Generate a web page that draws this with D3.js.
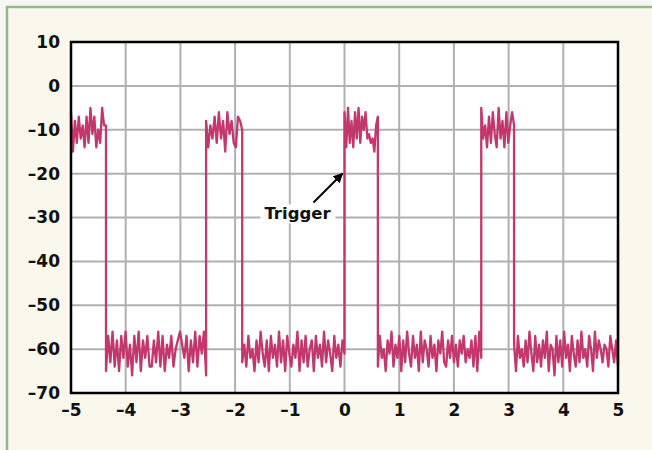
<!DOCTYPE html>
<html>
<head>
<meta charset="utf-8">
<script src="https://cdn.jsdelivr.net/npm/d3@7"></script>
<style>
  html, body { margin: 0; padding: 0; background: #f6f6f4; }
  svg { display: block; }
</style>
</head>
<body>
<div id="chart"></div>
<script>
// segment boundaries along x (high / low levels alternate)
const edges = [-5, -4.36, -2.53, -1.87, 0, 0.61, 2.5, 3.1, 5];
const seg1 = [-6, -15, -8, -13, -7, -12, -9, -14, -7, -13, -5, -11, -7, -14, -10, -13, -5, -9, -9];
const seg2 = [-65, -57, -63, -56, -64, -58, -65, -57, -62, -56, -64, -59, -66, -57, -63, -56, -65, -58, -62, -57,
  -64, -64, -58, -63, -56, -64, -57, -65, -59, -62, -57, -64, -60, -58, -56, -59, -62, -57, -65, -58,
  -63, -56, -64, -57, -61, -56, -66];
const seg3 = [-8, -14, -9, -12, -7, -13, -6, -12, -8, -15, -6, -11, -8, -13, -14, -7, -8, -10];
const seg4 = [-63, -59, -64, -57, -62, -60, -65, -58, -63, -56, -61, -64, -58, -65, -57, -62, -59, -64, -56, -63,
  -58, -65, -57, -61, -64, -59, -62, -56, -65, -58, -63, -57, -64, -60, -58, -65, -57, -62, -59, -64,
  -56, -63, -58, -61, -65, -57, -62, -59, -64, -58, -61];
const seg5 = [-6, -14, -5, -13, -8, -14, -6, -12, -5, -13, -7, -10, -6, -12, -11, -13, -12, -15, -9, -7];
const seg6 = [-64, -57, -62, -60, -65, -58, -61, -56, -64, -59, -62, -57, -65, -58, -63, -56, -61, -64, -57, -62,
  -59, -65, -56, -63, -58, -60, -64, -57, -62, -59, -65, -58, -61, -56, -63, -64, -58, -62, -57, -63,
  -59, -64, -58, -61, -57, -63, -60, -62, -58, -64, -57, -65, -56, -62];
const seg7 = [-5, -12, -9, -14, -7, -13, -6, -11, -14, -5, -12, -8, -14, -6, -13, -9, -6, -9];
const seg8 = [-59, -65, -57, -62, -60, -64, -58, -63, -56, -61, -65, -57, -63, -59, -64, -58, -62, -56, -65, -59,
  -60, -66, -57, -63, -58, -64, -56, -62, -59, -65, -57, -61, -64, -58, -63, -56, -62, -60, -64, -57,
  -60, -65, -56, -62, -58, -60, -63, -59, -60, -64, -57, -60, -63, -58, -64];
const segments = [seg1, seg2, seg3, seg4, seg5, seg6, seg7, seg8];
const endPoint = { x: 5, y: -35 };

const xTicks = [-5, -4, -3, -2, -1, 0, 1, 2, 3, 4, 5];
const yTicks = [10, 0, -10, -20, -30, -40, -50, -60, -70];
const trigger = { x: 0, y: -19.5, label: "Trigger" };

const W = 652, H = 450;
const margin = { top: 42, right: 34, bottom: 57, left: 71 };
const lineColor = "#c2386d";
const font = "'DejaVu Sans', sans-serif";

const svg = d3.select("#chart").append("svg").attr("width", W).attr("height", H);

// cream panel with green top/left rule
svg.append("rect").attr("x", 7).attr("y", 7).attr("width", W - 7).attr("height", H - 7).attr("fill", "#faf7ec");
svg.append("path").attr("d", `M7,${H} V7 H${W}`).attr("fill", "none").attr("stroke", "#8cbd86").attr("stroke-width", 2.5);

const x = d3.scaleLinear().domain([-5, 5]).range([margin.left, W - margin.right]);
const y = d3.scaleLinear().domain([-70, 10]).range([H - margin.bottom, margin.top]);

svg.append("rect")
  .attr("x", x(-5)).attr("y", y(10))
  .attr("width", x(5) - x(-5)).attr("height", y(-70) - y(10))
  .attr("fill", "#fff");

// grid
const grid = svg.append("g").attr("stroke", "#b0b0b0").attr("stroke-width", 2);
grid.selectAll("line.v").data(xTicks.slice(1, -1)).join("line")
  .attr("x1", d => x(d)).attr("x2", d => x(d)).attr("y1", y(10)).attr("y2", y(-70));
grid.selectAll("line.h").data(yTicks.slice(1, -1)).join("line")
  .attr("x1", x(-5)).attr("x2", x(5)).attr("y1", d => y(d)).attr("y2", d => y(d));

// series
const points = [];
segments.forEach((vals, s) => {
  const x0 = edges[s], x1 = edges[s + 1];
  vals.forEach((v, i) => points.push({ x: x0 + (x1 - x0) * i / (vals.length - 1), y: v }));
});
points.push(endPoint);

svg.append("path")
  .datum(points)
  .attr("fill", "none")
  .attr("stroke", lineColor)
  .attr("stroke-width", 2.3)
  .attr("stroke-linejoin", "round")
  .attr("d", d3.line().x(d => x(d.x)).y(d => y(d.y)));

// frame
svg.append("rect")
  .attr("x", x(-5)).attr("y", y(10))
  .attr("width", x(5) - x(-5)).attr("height", y(-70) - y(10))
  .attr("fill", "none").attr("stroke", "#000").attr("stroke-width", 2.5);

const fmt = d => (d < 0 ? "\u2013" + Math.abs(d) : String(d));

// axes
const yAxis = svg.append("g")
  .attr("transform", `translate(${x(-5)},0)`)
  .call(d3.axisLeft(y).tickValues(yTicks).tickSize(0).tickPadding(11).tickFormat(fmt));
const xAxis = svg.append("g")
  .attr("transform", `translate(0,${y(-70)})`)
  .call(d3.axisBottom(x).tickValues(xTicks).tickSize(0).tickPadding(11).tickFormat(fmt));
[xAxis, yAxis].forEach(g => {
  g.select(".domain").remove();
  g.selectAll("text").attr("font-family", font).attr("font-weight", "bold")
    .attr("font-size", 17).attr("fill", "#111");
});

// trigger annotation
const tx = x(trigger.x), ty = y(trigger.y);
svg.append("defs").append("marker")
  .attr("id", "arrow").attr("viewBox", "0 0 10 10")
  .attr("refX", 9).attr("refY", 5)
  .attr("markerWidth", 5).attr("markerHeight", 5)
  .attr("orient", "auto")
  .append("path").attr("d", "M0,0 L10,5 L0,10 Z").attr("fill", "#000");

const lbl = svg.append("g");
const lblText = lbl.append("text")
  .attr("x", tx - 47).attr("y", ty + 48)
  .attr("text-anchor", "middle")
  .attr("font-family", font).attr("font-weight", "bold").attr("font-size", 16.5)
  .attr("fill", "#111")
  .text(trigger.label);
const bb = lblText.node().getBBox();
lbl.insert("rect", "text")
  .attr("x", bb.x - 4).attr("y", bb.y).attr("width", bb.width + 8).attr("height", bb.height)
  .attr("fill", "#fff");

svg.append("line")
  .attr("x1", tx - 31).attr("y1", ty + 31)
  .attr("x2", tx - 2).attr("y2", ty + 2)
  .attr("stroke", "#000").attr("stroke-width", 2)
  .attr("marker-end", "url(#arrow)");
</script>
</body>
</html>
